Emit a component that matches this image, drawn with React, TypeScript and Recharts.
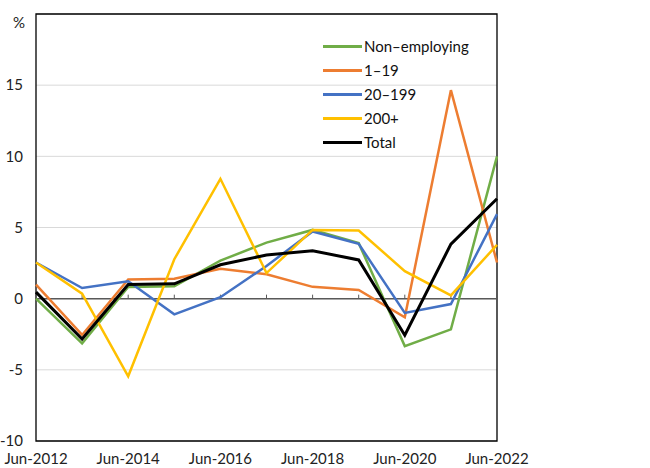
import React from "react";
import {
  LineChart,
  Line,
  XAxis,
  YAxis,
  CartesianGrid,
  Legend,
  ReferenceLine,
  ReferenceArea,
} from "recharts";

const years = [
  "Jun-2012",
  "Jun-2013",
  "Jun-2014",
  "Jun-2015",
  "Jun-2016",
  "Jun-2017",
  "Jun-2018",
  "Jun-2019",
  "Jun-2020",
  "Jun-2021",
  "Jun-2022",
];

const nonEmploying = [0.0, -3.15, 0.82, 0.87, 2.67, 3.94, 4.83, 3.9, -3.33, -2.16, 10.0];
const small = [0.99, -2.55, 1.35, 1.4, 2.1, 1.72, 0.83, 0.61, -1.31, 14.65, 2.54];
const medium = [2.54, 0.75, 1.22, -1.1, 0.1, 2.3, 4.72, 3.85, -1.0, -0.38, 5.94];
const large = [2.54, 0.35, -5.45, 2.77, 8.42, 1.8, 4.83, 4.79, 1.93, 0.23, 3.78];
const total = [0.46, -2.84, 1.0, 1.04, 2.38, 3.07, 3.37, 2.72, -2.57, 3.83, 7.02];

const yTicks = [-10, -5, 0, 5, 10, 15, 20];

const series = [
  { key: "nonEmp", name: "Non\u2013employing", color: "#70AD47", width: 2.5 },
  { key: "small", name: "1\u201319", color: "#ED7D31", width: 2.5 },
  { key: "medium", name: "20\u2013199", color: "#4472C4", width: 2.5 },
  { key: "large", name: "200+", color: "#FFC000", width: 2.5 },
  { key: "total", name: "Total", color: "#000000", width: 3 },
];

const data = years.map((label, i) => ({
  label,
  nonEmp: nonEmploying[i],
  small: small[i],
  medium: medium[i],
  large: large[i],
  total: total[i],
}));

const FONT = "Lato, 'Noto Sans', sans-serif";

function YTick(props: any) {
  const { x, y, payload } = props;
  const isTop = payload.value === 20;
  return (
    <text
      x={x + (isTop ? 2 : 0)}
      y={y + (isTop ? 9 : 0)}
      dy="0.35em"
      textAnchor="end"
      fontSize={15}
      fontFamily={FONT}
      fill="#222"
    >
      {isTop ? "%" : payload.value}
    </text>
  );
}

function ZeroAxis(props: any) {
  const { x1, y1, x2 } = props;
  const n = years.length;
  const step = (x2 - x1) / (n - 1);
  return (
    <g>
      <line x1={x1} y1={y1} x2={x2} y2={y1} stroke="#595959" strokeWidth={1.5} />
      {years.map((_, i) => (
        <line
          key={i}
          x1={x1 + i * step}
          x2={x1 + i * step}
          y1={y1}
          y2={y1 - 4}
          stroke="#595959"
          strokeWidth={1}
        />
      ))}
    </g>
  );
}

// legend drawn from the series list so the order stays as in the source
function LegendBox() {
  return (
    <div style={{ fontFamily: FONT, fontSize: 15, color: "#111" }}>
      {series.map((s) => (
        <div
          key={s.key}
          style={{ display: "flex", alignItems: "center", height: 24 }}
        >
          <span
            style={{
              display: "inline-block",
              width: 39,
              height: 3,
              background: s.color,
              marginRight: 2,
            }}
          />
          <span>{s.name}</span>
        </div>
      ))}
    </div>
  );
}

export default function App() {
  return (
    <div style={{ position: "absolute", left: 0, top: 0, background: "#fff" }}>
      <LineChart
        width={650}
        height={468}
        data={data}
        margin={{ top: 14, right: 153, bottom: 0, left: 0 }}
      >
        <CartesianGrid vertical={false} stroke="#d9d9d9" strokeWidth={1} />
        <XAxis
          dataKey="label"
          interval={1}
          axisLine={false}
          tickLine={false}
          height={27}
          tickMargin={6}
          tick={{ fontSize: 15, fill: "#222", fontFamily: FONT }}
        />
        <YAxis
          type="number"
          domain={[-10, 20]}
          ticks={yTicks}
          axisLine={false}
          tickLine={false}
          width={36}
          tickMargin={7}
          tick={<YTick />}
        />
        <ReferenceArea
          x1={years[0]}
          x2={years[years.length - 1]}
          y1={-10}
          y2={20}
          fill="none"
          fillOpacity={0}
          stroke="#000"
          strokeWidth={1.3}
        />
        <ReferenceLine y={0} shape={(p: any) => <ZeroAxis {...p} />} />
        <Legend
          verticalAlign="middle"
          align="center"
          layout="vertical"
          wrapperStyle={{ top: 34, left: 323, width: 180 }}
          content={<LegendBox />}
        />
        {series.map((s) => (
          <Line
            key={s.key}
            type="linear"
            dataKey={s.key}
            name={s.name}
            stroke={s.color}
            strokeWidth={s.width}
            dot={false}
            activeDot={false}
            isAnimationActive={false}
          />
        ))}
      </LineChart>
    </div>
  );
}
